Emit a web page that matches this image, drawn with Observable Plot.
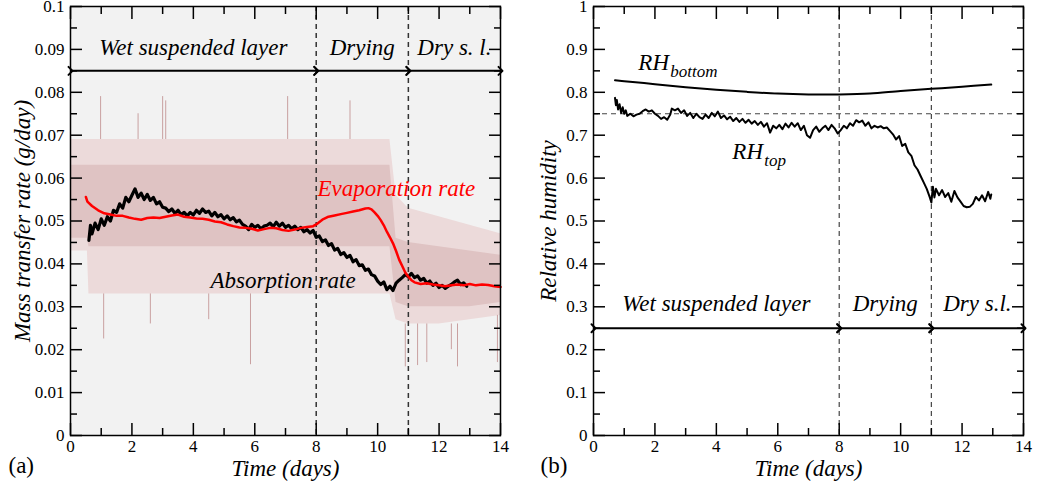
<!DOCTYPE html>
<html><head><meta charset="utf-8">
<script src="https://cdn.jsdelivr.net/npm/d3@7"></script>
<script src="https://cdn.jsdelivr.net/npm/@observablehq/plot@0.6"></script>
<style>
html,body{margin:0;padding:0;background:#fff;}
#wrap{position:relative;width:1041px;height:486px;overflow:hidden;background:#fff;}
#a{position:absolute;left:0;top:0;}
#b{position:absolute;left:520px;top:0;}
#wrap svg, #wrap svg text { font-family: "Liberation Serif", "Times New Roman", serif !important; }
</style></head><body>
<div id="wrap"><div id="a"></div><div id="b"></div></div>
<script>
// ---------- shared ticks / phases ----------
const xMajor = [0, 2, 4, 6, 8, 10, 12, 14];
const xMinor = [1, 3, 5, 7, 9, 11, 13];
const yMajorA = [0, 0.01, 0.02, 0.03, 0.04, 0.05, 0.06, 0.07, 0.08, 0.09, 0.1];
const yMinorA = [0.005, 0.015, 0.025, 0.035, 0.045, 0.055, 0.065, 0.075, 0.085, 0.095];
const yMajorB = [0, 0.1, 0.2, 0.3, 0.4, 0.5, 0.6, 0.7, 0.8, 0.9, 1];
const yMinorB = [0.05, 0.15, 0.25, 0.35, 0.45, 0.55, 0.65, 0.75, 0.85, 0.95];
const phaseStart = [0, 8, 11];
const phaseEnd = [8, 11, 14];
const phaseMid = [4, 9.5, 12.5];
const phaseBounds = [8, 11];
const phaseLabelsA = ["Wet suspended layer", "Drying", "Dry s. l."];
const phaseLabelsB = ["Wet suspended layer", "Drying", "Dry s.l."];

// ---------- panel (a): raw measurement envelope ----------
const rawT    = [0, 0.55, 0.6, 2, 4, 6, 8, 9, 10, 10.4, 10.6, 11, 12, 13, 14];
const rawLo   = [0.043, 0.043, 0.033, 0.033, 0.033, 0.033, 0.033, 0.033, 0.033, 0.033, 0.027, 0.026, 0.026, 0.027, 0.028];
const rawHi   = [0.069, 0.069, 0.069, 0.069, 0.069, 0.069, 0.069, 0.069, 0.069, 0.069, 0.056, 0.053, 0.051, 0.049, 0.047];
const coreLo  = [0.046, 0.046, 0.044, 0.044, 0.044, 0.044, 0.044, 0.044, 0.044, 0.044, 0.031, 0.030, 0.030, 0.030, 0.031];
const coreHi  = [0.063, 0.063, 0.063, 0.063, 0.063, 0.063, 0.063, 0.063, 0.063, 0.063, 0.046, 0.045, 0.044, 0.043, 0.042];
const spikeT  = [0.98, 1.08, 2.2, 2.6, 3.0, 3.1, 4.5, 5.86, 7.07, 9.1, 10.9, 11.3, 11.6, 12.4, 12.6, 13.9];
const spikeLo = [0.069, 0.0225, 0.069, 0.026, 0.069, 0.069, 0.027, 0.0165, 0.069, 0.069, 0.016, 0.0163, 0.017, 0.02, 0.016, 0.017];
const spikeHi = [0.079, 0.033, 0.075, 0.033, 0.079, 0.078, 0.033, 0.033, 0.079, 0.078, 0.026, 0.026, 0.026, 0.026, 0.026, 0.028];

// ---------- panel (a): absorption rate (black) ----------
const absT = [0.6,0.65,0.7,0.8,0.9,1.0,1.1,1.2,1.3,1.4,1.5,1.6,1.7,1.8,1.9,2.0,2.1,2.2,2.3,2.4,2.5,2.6,2.7,2.8,2.9,3.0,3.1,3.2,3.3,3.4,3.5,3.6,3.7,3.8,3.9,4.0,4.1,4.2,4.3,4.4,4.5,4.6,4.7,4.8,4.9,5.0,5.1,5.2,5.3,5.4,5.5,5.6,5.7,5.8,5.9,6.0,6.1,6.2,6.3,6.4,6.5,6.6,6.7,6.8,6.9,7.0,7.1,7.2,7.3,7.4,7.5,7.6,7.7,7.8,7.9,8.0,8.1,8.2,8.3,8.4,8.5,8.6,8.7,8.8,8.9,9.0,9.1,9.2,9.3,9.4,9.5,9.6,9.7,9.8,9.9,10.0,10.1,10.2,10.3,10.4,10.5,10.6,10.7,10.8,10.9,11.0,11.1,11.2,11.3,11.4,11.5,11.6,11.7,11.8,11.9,12.0,12.1,12.2,12.3,12.4,12.5,12.6,12.7,12.8,12.9];
const absV = [0.0455,0.049,0.047,0.0495,0.048,0.0505,0.049,0.051,0.050,0.0525,0.052,0.054,0.053,0.0555,0.0545,0.056,0.0575,0.0555,0.0565,0.055,0.0562,0.0548,0.0555,0.054,0.0545,0.0532,0.053,0.0522,0.0528,0.0518,0.0525,0.0515,0.052,0.0512,0.052,0.0514,0.0525,0.0518,0.0528,0.052,0.0523,0.0512,0.052,0.051,0.0515,0.0505,0.0512,0.0503,0.0508,0.0498,0.0502,0.0492,0.0488,0.048,0.0492,0.0485,0.049,0.0482,0.0488,0.049,0.0495,0.0487,0.0497,0.0488,0.0495,0.0485,0.049,0.0482,0.0488,0.048,0.0485,0.0475,0.048,0.0472,0.0478,0.0462,0.0465,0.0452,0.0456,0.0443,0.0447,0.0432,0.0436,0.0422,0.0426,0.0415,0.042,0.0405,0.041,0.0396,0.0398,0.0385,0.0388,0.0375,0.0372,0.036,0.0352,0.0358,0.034,0.0348,0.0338,0.0355,0.0362,0.0368,0.0375,0.037,0.0378,0.0368,0.0372,0.0362,0.0366,0.0355,0.036,0.035,0.0355,0.0345,0.035,0.0343,0.0348,0.0352,0.0358,0.0362,0.0352,0.0356,0.0348];

// ---------- panel (a): evaporation rate (red) ----------
const evapT = [0.5,0.55,0.7,0.9,1.1,1.3,1.5,1.7,1.9,2.1,2.3,2.5,2.7,2.9,3.1,3.3,3.5,3.7,3.9,4.1,4.3,4.5,4.7,4.9,5.1,5.3,5.5,5.7,5.9,6.1,6.3,6.5,6.7,6.9,7.1,7.3,7.5,7.7,7.9,8.0,8.2,8.4,8.6,8.8,9.0,9.2,9.4,9.6,9.7,9.8,9.9,10.0,10.1,10.2,10.3,10.4,10.5,10.6,10.7,10.8,10.9,11.0,11.1,11.2,11.4,11.6,11.8,12.0,12.2,12.4,12.6,12.8,13.0,13.2,13.4,13.6,13.8,14.0];
const evapV = [0.0556,0.0545,0.0535,0.0525,0.0518,0.0515,0.0512,0.0512,0.0508,0.0505,0.0503,0.0507,0.0508,0.0507,0.051,0.0513,0.0515,0.051,0.0508,0.0506,0.0505,0.0503,0.0499,0.0497,0.0492,0.0488,0.0485,0.0484,0.0482,0.0478,0.0481,0.0484,0.0483,0.0479,0.0477,0.048,0.0484,0.0486,0.0488,0.0492,0.0503,0.051,0.0513,0.0516,0.0519,0.0522,0.0525,0.0529,0.053,0.0527,0.052,0.0512,0.0502,0.049,0.0475,0.0462,0.0448,0.043,0.041,0.0395,0.038,0.037,0.0362,0.0357,0.0353,0.0355,0.0352,0.035,0.0348,0.035,0.0352,0.035,0.0353,0.035,0.0352,0.0351,0.0348,0.0346];

// ---------- panel (b): relative humidity ----------
const rhBotT = [0.7, 1, 2, 3, 4, 5, 6, 7, 8, 9, 10, 11, 12, 12.95];
const rhBotV = [0.828, 0.826, 0.819, 0.812, 0.806, 0.801, 0.797, 0.795, 0.795, 0.797, 0.803, 0.808, 0.813, 0.818];
const rhTopT = [0.70,0.73,0.76,0.80,0.85,0.90,0.95,1.00,1.05,1.10,1.20,1.30,1.40,1.50,1.60,1.70,1.80,1.90,2.00,2.10,2.20,2.30,2.40,2.50,2.55,2.65,2.75,2.85,2.95,3.05,3.15,3.25,3.35,3.45,3.55,3.65,3.75,3.85,3.95,4.05,4.15,4.25,4.35,4.45,4.55,4.65,4.75,4.85,4.95,5.05,5.15,5.25,5.35,5.45,5.55,5.65,5.75,5.85,5.95,6.05,6.15,6.25,6.35,6.45,6.55,6.65,6.75,6.85,6.95,7.05,7.15,7.25,7.35,7.45,7.55,7.65,7.75,7.85,7.95,8.05,8.15,8.25,8.35,8.45,8.55,8.65,8.75,8.85,8.95,9.05,9.15,9.25,9.35,9.45,9.55,9.65,9.75,9.85,9.95,10.05,10.15,10.25,10.35,10.45,10.55,10.65,10.75,10.85,10.95,11.00,11.05,11.10,11.15,11.25,11.35,11.45,11.55,11.65,11.75,11.85,11.95,12.05,12.15,12.25,12.35,12.45,12.55,12.65,12.75,12.85,12.92,12.95];
const rhTopV = [0.787,0.770,0.782,0.760,0.772,0.752,0.765,0.750,0.758,0.745,0.750,0.744,0.748,0.750,0.756,0.760,0.755,0.758,0.750,0.745,0.738,0.742,0.736,0.748,0.762,0.758,0.762,0.752,0.758,0.745,0.752,0.740,0.750,0.742,0.738,0.748,0.740,0.752,0.744,0.755,0.740,0.746,0.737,0.743,0.733,0.740,0.731,0.738,0.729,0.736,0.727,0.733,0.724,0.731,0.720,0.728,0.706,0.722,0.716,0.724,0.714,0.727,0.718,0.729,0.720,0.728,0.712,0.722,0.700,0.694,0.712,0.720,0.708,0.716,0.722,0.712,0.724,0.716,0.704,0.712,0.722,0.716,0.728,0.722,0.735,0.730,0.734,0.722,0.730,0.716,0.722,0.718,0.721,0.716,0.718,0.710,0.702,0.690,0.698,0.675,0.680,0.660,0.652,0.630,0.620,0.605,0.590,0.575,0.555,0.543,0.580,0.555,0.575,0.560,0.572,0.556,0.565,0.545,0.570,0.555,0.545,0.535,0.532,0.533,0.540,0.556,0.548,0.560,0.546,0.568,0.552,0.562];
const rhRef = [0.75];

// ---------- annotation anchors (data units) ----------
const arrowYA = 0.085, phaseTextYA = 0.0888;
const arrowYB = 0.25,  phaseTextYB = 0.291;
const evapLabel = {text: "Evaporation rate", t: 8.04, v: 0.0559};
const absLabel  = {text: "Absorption rate", t: 4.56, v: 0.0344};
const rhBotLabel = {main: "RH", sub: "bottom", t: 1.46, v: 0.853};
const rhTopLabel = {main: "RH", sub: "top", t: 4.52, v: 0.644};

// ---------- helpers ----------
const FONT = "Liberation Serif, Times New Roman, serif";
const blank = () => "";
function boxAxes(yMajor, yMinor) {
  const fmt = d => String(+d.toFixed(3));
  const sw = 1.5;
  return [
    Plot.axisX({ticks: xMajor, anchor: "bottom", tickSize: -12, tickPadding: 16, strokeWidth: sw, tickFormat: fmt, label: null}),
    Plot.axisX({ticks: xMinor, anchor: "bottom", tickSize: -7, strokeWidth: sw, tickFormat: blank, label: null}),
    Plot.axisX({ticks: xMajor, anchor: "top", tickSize: -12, strokeWidth: sw, tickFormat: blank, label: null}),
    Plot.axisX({ticks: xMinor, anchor: "top", tickSize: -7, strokeWidth: sw, tickFormat: blank, label: null}),
    Plot.axisY({ticks: yMajor, anchor: "left", tickSize: -12, tickPadding: 18, strokeWidth: sw, tickFormat: fmt, label: null}),
    Plot.axisY({ticks: yMinor, anchor: "left", tickSize: -7, strokeWidth: sw, tickFormat: blank, label: null}),
    Plot.axisY({ticks: yMajor, anchor: "right", tickSize: -12, strokeWidth: sw, tickFormat: blank, label: null}),
    Plot.axisY({ticks: yMinor, anchor: "right", tickSize: -7, strokeWidth: sw, tickFormat: blank, label: null}),
    Plot.frame({stroke: "black", strokeWidth: 1.5})
  ];
}
function phaseMarks(labels, arrowY, textY) {
  return [
    Plot.link(phaseStart, {x1: phaseStart, x2: phaseEnd, y1: arrowY, y2: arrowY,
      stroke: "black", strokeWidth: 2, markerStart: "arrow", markerEnd: "arrow"}),
    Plot.text(labels, {x: phaseMid, y: textY, text: d => d, fontStyle: "italic",
      fontSize: 23, lineAnchor: "bottom", fill: "black"})
  ];
}
function outerText(label, fa, dx, dy, rotate, italic, size, anchor) {
  return Plot.text([label], {text: d => d, frameAnchor: fa, dx, dy, rotate,
    textAnchor: anchor, lineAnchor: "middle",
    fontStyle: italic ? "italic" : "normal", fontSize: size, fill: "black"});
}

// ---------- panel (a) ----------
const chartA = Plot.plot({
  width: 520, height: 486, marginLeft: 70, marginRight: 20, marginTop: 6, marginBottom: 51,
  style: {fontFamily: FONT, fontSize: "17px", background: "transparent", overflow: "visible", color: "black"},
  x: {domain: [0, 14]},
  y: {domain: [0, 0.1]},
  marks: [
    Plot.frame({fill: "#f2f2f2", stroke: "none"}),
    Plot.areaY(rawT, {x: rawT, y1: rawLo, y2: rawHi, fill: "#ecdada"}),
    Plot.areaY(rawT, {x: rawT, y1: coreLo, y2: coreHi, fill: "#dfc3c3"}),
    Plot.ruleX(spikeT, {x: spikeT, y1: spikeLo, y2: spikeHi, stroke: "#c9a0a0", strokeWidth: 1}),
    Plot.ruleX(phaseBounds, {stroke: "#333", strokeWidth: 1.5, strokeDasharray: "5,4"}),
    ...phaseMarks(phaseLabelsA, arrowYA, phaseTextYA),
    Plot.line(absT, {x: absT, y: absV, stroke: "black", strokeWidth: 3.2}),
    Plot.line(evapT, {x: evapT, y: evapV, stroke: "#ff0000", strokeWidth: 2.5}),
    Plot.text([evapLabel], {x: "t", y: "v", text: "text", fill: "#ff0000", fontStyle: "italic", fontSize: 23, textAnchor: "start", lineAnchor: "bottom"}),
    Plot.text([absLabel], {x: "t", y: "v", text: "text", fill: "black", fontStyle: "italic", fontSize: 23, textAnchor: "start", lineAnchor: "bottom"}),
    ...boxAxes(yMajorA, yMinorA),
    outerText("Mass transfer rate (g/day)", "left", -48, 0, -90, true, 23, "middle"),
    outerText("Time (days)", "bottom", 0, 33, 0, true, 23, "middle"),
    outerText("(a)", "bottom-left", -62, 30, 0, false, 23, "start")
  ]
});
document.getElementById("a").appendChild(chartA);

// ---------- panel (b) ----------
const chartB = Plot.plot({
  width: 521, height: 486, marginLeft: 73, marginRight: 18, marginTop: 6, marginBottom: 51,
  style: {fontFamily: FONT, fontSize: "17px", background: "transparent", overflow: "visible", color: "black"},
  x: {domain: [0, 14]},
  y: {domain: [0, 1]},
  marks: [
    Plot.ruleX(phaseBounds, {stroke: "#444", strokeWidth: 1.2, strokeDasharray: "5,4"}),
    Plot.ruleY(rhRef, {stroke: "#444", strokeWidth: 1.2, strokeDasharray: "5,4"}),
    ...phaseMarks(phaseLabelsB, arrowYB, phaseTextYB),
    Plot.line(rhBotT, {x: rhBotT, y: rhBotV, stroke: "black", strokeWidth: 2, curve: "catmull-rom"}),
    Plot.line(rhTopT, {x: rhTopT, y: rhTopV, stroke: "black", strokeWidth: 2}),
    Plot.text([rhBotLabel], {x: "t", y: "v", text: "main", fontStyle: "italic", fontSize: 23, textAnchor: "start", lineAnchor: "bottom"}),
    Plot.text([rhBotLabel], {x: "t", y: "v", text: "sub", fontStyle: "italic", fontSize: 17, textAnchor: "start", lineAnchor: "bottom", dx: 32, dy: 7}),
    Plot.text([rhTopLabel], {x: "t", y: "v", text: "main", fontStyle: "italic", fontSize: 23, textAnchor: "start", lineAnchor: "bottom"}),
    Plot.text([rhTopLabel], {x: "t", y: "v", text: "sub", fontStyle: "italic", fontSize: 17, textAnchor: "start", lineAnchor: "bottom", dx: 32, dy: 7}),
    ...boxAxes(yMajorB, yMinorB),
    outerText("Relative humidity", "left", -45, 0, -90, true, 23, "middle"),
    outerText("Time (days)", "bottom", 0, 33, 0, true, 23, "middle"),
    outerText("(b)", "bottom-left", -53, 30, 0, false, 23, "start")
  ]
});
document.getElementById("b").appendChild(chartB);
</script>
</body></html>
